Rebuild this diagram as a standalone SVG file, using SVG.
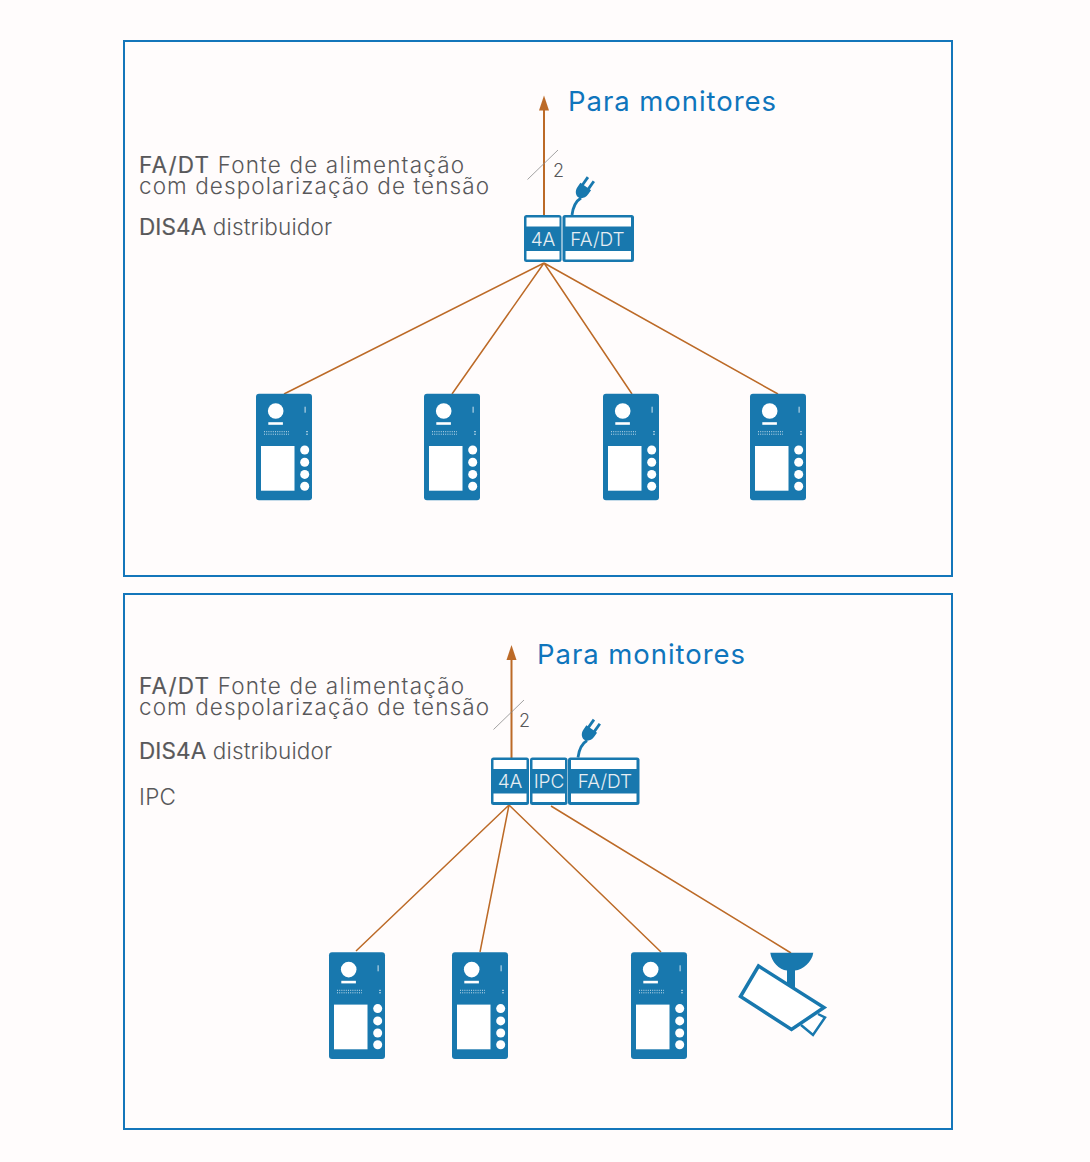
<svg xmlns="http://www.w3.org/2000/svg" xmlns:xlink="http://www.w3.org/1999/xlink" width="1090" height="1162" viewBox="0 0 1090 1162">
<style>
.frame{fill:none;stroke:#1476ba;stroke-width:2}
.wire{stroke:#bc6a27;stroke-width:1.5;fill:none}
.arrow{stroke:#bc6a27;stroke-width:2;fill:none}
.head{fill:#bc6a27}
.slash{stroke:#8a8a8a;stroke-width:.8}
.blue{fill:#1878ae}
.w{fill:#fff}
.t{font-family:"Inter","Liberation Sans",sans-serif;font-weight:300;fill:#58585a;font-size:22.500px}
.b{font-weight:400;stroke:#58585a;stroke-width:.2}
.title{font-family:"Inter","Liberation Sans",sans-serif;font-weight:400;fill:#0f75bc;font-size:27.500px}
.dev{font-family:"Inter","Liberation Sans",sans-serif;font-weight:300;fill:#e6eef3;font-size:19px;text-anchor:middle}
.num{font-family:"Inter","Liberation Sans",sans-serif;font-weight:300;fill:#58585a;font-size:18px}
.cam{fill:#fff;stroke:#1878ae;stroke-width:3.500;stroke-linejoin:miter}
.cable{fill:none;stroke:#1878ae;stroke-width:2.800}
</style>
<defs>
<g id="panel">
<rect width="56" height="106.600" rx="3" class="blue"/>
<circle cx="19.700" cy="17.300" r="7.800" class="w"/>
<rect x="12.300" y="28.500" width="14.600" height="2.600" class="w"/>
<path d="M8 38h25M8 40.500h25" stroke="#fff" stroke-width="1" stroke-dasharray="1 1.200" opacity=".75"/>
<path d="M50 38h2M50 40.500h2" stroke="#fff" stroke-width="1" opacity=".7"/>
<rect x="48.600" y="13" width="1" height="6" fill="#fff" opacity=".8"/>
<rect x="5" y="52.300" width="33.500" height="44.700" class="w"/>
<circle cx="48.700" cy="56.300" r="4.500" class="w"/>
<circle cx="48.700" cy="68.600" r="4.500" class="w"/>
<circle cx="48.700" cy="80.700" r="4.500" class="w"/>
<circle cx="48.700" cy="92.500" r="4.500" class="w"/>
</g>
<g id="plug">
<path d="M0 0C1 -8 4 -14 9 -17" class="cable"/>
<g transform="translate(12 -26) rotate(35)">
<path d="M-6.500 -3H6.500V2C6.500 7 3 10 0 10C-3 10 -6.500 7 -6.500 2Z" class="blue"/>
<rect x="-5" y="-12" width="2.800" height="10" class="blue"/>
<rect x="2.200" y="-12" width="2.800" height="10" class="blue"/>
</g>
</g>
</defs>
<rect width="1090" height="1162" fill="#fffcfc"/>
<rect id="frame-top" class="frame" x="124" y="41" width="828" height="535"/>
<rect id="frame-bottom" class="frame" x="124" y="594" width="828" height="535"/>
<g id="connectors">
<path class="wire" d="M544 263L284 394M544 263L452 394M544 263L632 394M544 263L778 394"/>
<path class="wire" d="M509 805L356 951M509 805L480 952M509 805L661 952M551 806L791 953"/>
<path class="arrow" d="M544 215V108M511.500 758V658"/>
<path class="head" d="M544 95.500L549 110.500H539Z"/>
<path class="head" d="M511.500 645L516.500 660H506.500Z"/>
<path class="slash" d="M527.500 179.500L558 150M493.500 729.500L524 700"/>
</g>
<g id="labels-top">
<text class="title" x="568" y="111" textLength="208" lengthAdjust="spacing">Para monitores</text>
<text class="t" x="139" y="173" textLength="325" lengthAdjust="spacing"><tspan class="b">FA/DT</tspan> Fonte de alimentação</text>
<text class="t" x="139" y="194" textLength="350" lengthAdjust="spacing">com despolarização de tensão</text>
<text class="t" x="139" y="235" textLength="193" lengthAdjust="spacing"><tspan class="b">DIS4A</tspan> distribuidor</text>
<text class="num" x="553" y="177">2</text>
</g>
<g id="labels-bottom">
<text class="title" x="537" y="664" textLength="208" lengthAdjust="spacing">Para monitores</text>
<text class="t" x="139" y="694" textLength="325" lengthAdjust="spacing"><tspan class="b">FA/DT</tspan> Fonte de alimentação</text>
<text class="t" x="139" y="715" textLength="350" lengthAdjust="spacing">com despolarização de tensão</text>
<text class="t" x="139" y="759" textLength="193" lengthAdjust="spacing"><tspan class="b">DIS4A</tspan> distribuidor</text>
<text class="t" x="139" y="805" textLength="37" lengthAdjust="spacing">IPC</text>
<text class="num" x="519" y="727">2</text>
</g>
<g id="dev-4a-top">
<rect x="524" y="215" width="37.500" height="47" rx="2.500" class="blue"/>
<rect x="526.500" y="217.500" width="33" height="9" class="w"/><rect x="526.500" y="251" width="33" height="8.500" class="w"/>
<text class="dev" x="543" y="246">4A</text>
</g>
<g id="dev-fadt-top">
<rect x="562.500" y="215" width="71.500" height="47" rx="2.500" class="blue"/>
<rect x="565.500" y="217.500" width="65.500" height="9" class="w"/><rect x="565.500" y="251" width="65.500" height="8.500" class="w"/>
<text class="dev" x="597.500" y="246">FA/DT</text>
<use xlink:href="#plug" href="#plug" x="572" y="215"/>
</g>
<g id="dev-4a-bottom">
<rect x="491" y="757.500" width="38" height="47.500" rx="2.500" class="blue"/>
<rect x="493.500" y="760" width="33" height="9" class="w"/><rect x="493.500" y="793.500" width="33" height="8.500" class="w"/>
<text class="dev" x="510" y="788">4A</text>
</g>
<g id="dev-ipc-bottom">
<rect x="530" y="757.500" width="37.500" height="47.500" rx="2.500" class="blue"/>
<rect x="532.500" y="760" width="32.500" height="9" class="w"/><rect x="532.500" y="793.500" width="32.500" height="8.500" class="w"/>
<text class="dev" x="549" y="788">IPC</text>
</g>
<g id="dev-fadt-bottom">
<rect x="568" y="757.500" width="71.500" height="47.500" rx="2.500" class="blue"/>
<rect x="571" y="760" width="65.500" height="9" class="w"/><rect x="571" y="793.500" width="65.500" height="8.500" class="w"/>
<text class="dev" x="605" y="788">FA/DT</text>
<use xlink:href="#plug" href="#plug" x="578" y="757.500"/>
</g>
<g id="panel-t1"><use xlink:href="#panel" href="#panel" x="256" y="393.700"/></g>
<g id="panel-t2"><use xlink:href="#panel" href="#panel" x="424" y="393.700"/></g>
<g id="panel-t3"><use xlink:href="#panel" href="#panel" x="603" y="393.700"/></g>
<g id="panel-t4"><use xlink:href="#panel" href="#panel" x="750" y="393.700"/></g>
<g id="panel-b1"><use xlink:href="#panel" href="#panel" x="329" y="952.300"/></g>
<g id="panel-b2"><use xlink:href="#panel" href="#panel" x="452" y="952.300"/></g>
<g id="panel-b3"><use xlink:href="#panel" href="#panel" x="631" y="952.300"/></g>
<g id="camera">
<path class="blue" d="M770.300 952.700H813.300C812 962 803 969.500 795 970.500V992H787V970.500C779 969.500 771.500 962 770.300 952.700Z"/>
<path d="M818 1014L825 1017.500L813 1035L801 1025" fill="#fff" stroke="#1878ae" stroke-width="2.500"/>
<path class="cam" d="M758.500 966L824 1007.500L791.500 1029.500L740.500 996.500Z"/>
</g>
</svg>
